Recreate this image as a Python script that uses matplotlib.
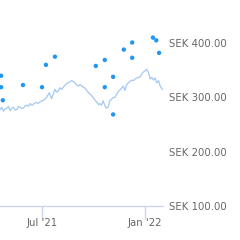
import matplotlib
matplotlib.use("Agg")
import matplotlib.pyplot as plt
import pandas as pd

plt.rcParams['font.family'] = ['DejaVu Sans']

# Price line
price_dates = ["2021-04-17","2021-04-20","2021-04-23","2021-04-26","2021-04-29","2021-05-02",
               "2021-05-05","2021-05-08","2021-05-11","2021-05-14","2021-05-17","2021-05-20",
               "2021-05-23","2021-05-26","2021-05-29","2021-06-01","2021-06-04","2021-06-07",
               "2021-06-10","2021-06-13","2021-06-15","2021-06-18","2021-06-21","2021-06-24",
               "2021-06-27","2021-07-03","2021-07-06","2021-07-09","2021-07-14","2021-07-18",
               "2021-07-21","2021-07-24","2021-07-27","2021-07-30","2021-08-02","2021-08-05",
               "2021-08-08","2021-08-14","2021-08-20","2021-08-23","2021-08-26","2021-08-29",
               "2021-09-01","2021-09-04","2021-09-07","2021-09-10","2021-09-13","2021-09-16",
               "2021-09-22","2021-09-28","2021-10-04","2021-10-10","2021-10-12","2021-10-15",
               "2021-10-18","2021-10-23","2021-10-27","2021-10-30","2021-11-02","2021-11-05",
               "2021-11-08","2021-11-14","2021-11-20","2021-11-23","2021-11-26","2021-11-29",
               "2021-12-02","2021-12-08","2021-12-11","2021-12-14","2021-12-17","2021-12-23",
               "2021-12-28","2022-01-01","2022-01-04","2022-01-07","2022-01-10","2022-01-13",
               "2022-01-16","2022-01-19","2022-01-22","2022-01-25","2022-01-28","2022-02-01"]
price_values = [277, 281, 274, 278, 279, 283, 275, 280, 281, 276, 277, 283,
                281, 279, 280, 284, 285, 283, 288, 285, 286, 289, 290, 288,
                291, 294, 296, 299, 308, 297, 305, 314, 309, 311, 317, 314,
                318, 325, 328, 330, 328, 326, 322, 320, 323, 320, 318, 316,
                308, 302, 294, 286, 288, 285, 293, 280, 281, 293, 296, 299,
                299, 310, 316, 320, 312, 322, 326, 331, 330, 333, 335, 337,
                345, 348, 351, 345, 333, 336, 331, 335, 326, 330, 320, 314]

# Target points
target_dates = ["2021-04-19","2021-04-19","2021-04-22","2021-05-28","2021-07-01","2021-07-08",
                "2021-07-24","2021-10-05","2021-10-21","2021-10-21","2021-11-05","2021-11-05",
                "2021-11-24","2021-12-09","2021-12-09","2022-01-15","2022-01-21","2022-01-26"]
target_values = [339, 318, 294, 322, 318, 359, 374, 357, 368, 318, 337, 268,
                 387, 400, 372, 409, 404, 381]

y_ticks = [100, 200, 300, 400]
y_tick_labels = ["SEK 100.00", "SEK 200.00", "SEK 300.00", "SEK 400.00"]
x_ticks = ["2021-07-01", "2022-01-01"]
x_tick_labels = ["Jul '21", "Jan '22"]

fig = plt.figure(figsize=(2.4, 2.4), dpi=100)
ax = fig.add_axes([0, 34/240, 163/240, 1 - 34/240])

ax.plot(pd.to_datetime(price_dates), price_values, color="#a6c8f0", lw=0.9, zorder=2)
ax.scatter(pd.to_datetime(target_dates), target_values, s=10, color="#2196f3",
           edgecolor="none", zorder=3, clip_on=False)

ax.set_xlim(pd.Timestamp("2021-04-17"), pd.Timestamp("2022-02-02"))
ax.set_ylim(100, 478)

for s in ["top", "left", "right"]:
    ax.spines[s].set_visible(False)
ax.spines["bottom"].set_color("#ccd6eb")
ax.spines["bottom"].set_linewidth(1)

ax.set_xticks(pd.to_datetime(x_ticks))
ax.set_xticklabels(x_tick_labels)
ax.tick_params(axis="x", length=9, width=1, color="#ccd6eb", labelsize=7.3,
               labelcolor="#666666", pad=0)

ax.yaxis.tick_right()
ax.set_yticks(y_ticks)
ax.set_yticklabels(y_tick_labels)
ax.tick_params(axis="y", length=0, labelsize=7.3, labelcolor="#666666", pad=4)
for lab in ax.get_yticklabels():
    lab.set_ha("left")

fig.savefig("out.png", dpi=100)
